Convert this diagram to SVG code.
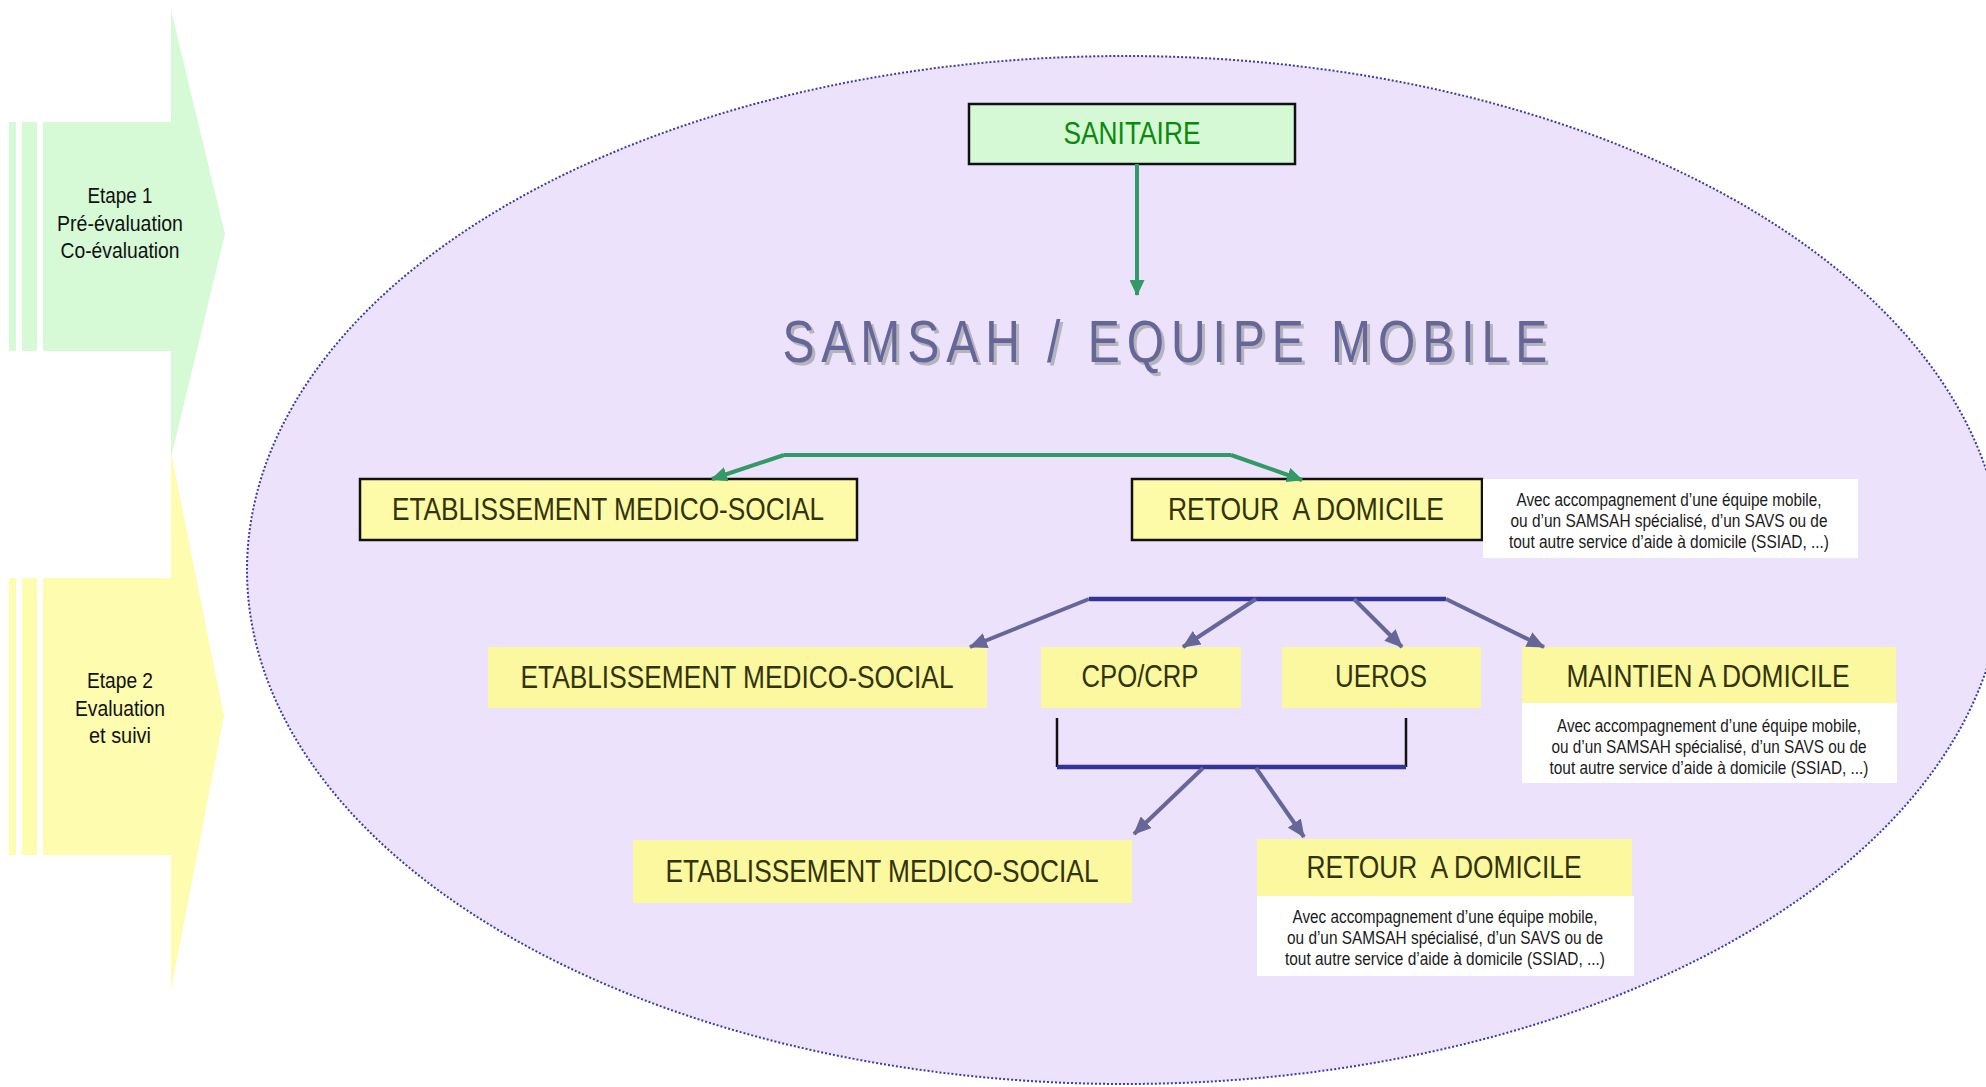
<svg xmlns="http://www.w3.org/2000/svg" width="1986" height="1087" viewBox="0 0 1986 1087">
  <defs>
    <style>
      .nar{font-family:"Liberation Sans Narrow","Liberation Sans",Arial,sans-serif;}
      .lbl{font-size:32px;fill:#333308;text-anchor:middle;}
      .note{font-size:17.5px;fill:#1a1a1a;text-anchor:middle;}
      .stage{font-size:22px;fill:#111;text-anchor:middle;}
      .ybox{fill:#fbf8a0;}
      .bbox{fill:#fefba8;stroke:#111;stroke-width:2.5;}
      .wbox{fill:#ffffff;}
      .g{stroke:#339966;stroke-width:4;fill:none;}
      .s{stroke:#666699;stroke-width:4;fill:none;}
      .n{stroke:#333399;stroke-width:4.5;fill:none;}
      .k{stroke:#111;stroke-width:2.5;fill:none;}
      .title{font-family:"Liberation Sans",Arial,sans-serif;font-size:60px;text-anchor:middle;}
    </style>
    <marker id="ag" markerUnits="userSpaceOnUse" markerWidth="16" markerHeight="15" refX="15" refY="7.5" orient="auto">
      <path d="M0,0 L16,7.5 L0,15 z" fill="#339966"/>
    </marker>
    <marker id="as" markerUnits="userSpaceOnUse" markerWidth="18" markerHeight="16" refX="17" refY="8" orient="auto">
      <path d="M0,0 L18,8 L0,16 z" fill="#666699"/>
    </marker>
  </defs>

  <!-- stage arrows on the left -->
  <g id="etape1">
    <rect x="9" y="122" width="7" height="229" fill="#d6f9d6"/>
    <rect x="22" y="122" width="15" height="229" fill="#d6f9d6"/>
    <polygon points="43,122 171,122 171,10 225,234 171,458 171,351 43,351" fill="#d6f9d6"/>
    <text class="nar stage" x="120" y="203" textLength="65" lengthAdjust="spacingAndGlyphs">Etape 1</text>
    <text class="nar stage" x="120" y="231" textLength="126" lengthAdjust="spacingAndGlyphs">Pré-évaluation</text>
    <text class="nar stage" x="120" y="258" textLength="119" lengthAdjust="spacingAndGlyphs">Co-évaluation</text>
  </g>
  <g id="etape2">
    <rect x="9" y="578" width="7" height="277" fill="#fdfcaf"/>
    <rect x="22" y="578" width="15" height="277" fill="#fdfcaf"/>
    <polygon points="43,578 171,578 171,452 224,716 171,990 171,855 43,855" fill="#fdfcaf"/>
    <text class="nar stage" x="120" y="688" textLength="66" lengthAdjust="spacingAndGlyphs">Etape 2</text>
    <text class="nar stage" x="120" y="716" textLength="90" lengthAdjust="spacingAndGlyphs">Evaluation</text>
    <text class="nar stage" x="120" y="743" textLength="62" lengthAdjust="spacingAndGlyphs">et suivi</text>
  </g>

  <!-- dotted oval framing the pathway -->
  <ellipse id="cadre" cx="1125" cy="570" rx="878" ry="514" fill="#ece2fb" stroke="#3a3aa8" stroke-width="2" stroke-dasharray="2 2"/>

  <!-- nodes -->
  <g id="sanitaire">
    <rect x="969" y="104" width="326" height="60" fill="#d5f8d5" stroke="#111" stroke-width="2.5"/>
    <text class="nar" x="1132" y="144" font-size="31" fill="#0a8a0a" text-anchor="middle" textLength="137" lengthAdjust="spacingAndGlyphs">SANITAIRE</text>
  </g>

  <!-- title: narrowed letters, widely spaced -->
  <g id="samsah">
    <text class="title" transform="translate(3,3) scale(0.8,1)" x="1456" y="362" fill="#b4b4bc" textLength="956" lengthAdjust="spacing">SAMSAH / EQUIPE MOBILE</text>
    <text class="title" transform="scale(0.8,1)" x="1456" y="362" fill="#666699" textLength="956" lengthAdjust="spacing">SAMSAH / EQUIPE MOBILE</text>
  </g>

  <g id="etab1">
    <rect class="bbox" x="360" y="479" width="497" height="61"/>
    <text class="nar lbl" x="608" y="520" textLength="432" lengthAdjust="spacingAndGlyphs">ETABLISSEMENT MEDICO-SOCIAL</text>
  </g>

  <g id="retour1">
    <rect class="bbox" x="1132" y="479" width="350" height="61"/>
    <text class="nar lbl" x="1306" y="520" textLength="276" lengthAdjust="spacingAndGlyphs" style="white-space:pre">RETOUR  A DOMICILE</text>
  </g>
  <g id="note1">
    <rect class="wbox" x="1483" y="479" width="375" height="79"/>
    <text class="nar note" x="1669" y="506" textLength="305" lengthAdjust="spacingAndGlyphs">Avec accompagnement d’une équipe mobile,</text>
    <text class="nar note" x="1669" y="527" textLength="317" lengthAdjust="spacingAndGlyphs">ou d’un SAMSAH spécialisé, d’un SAVS ou de</text>
    <text class="nar note" x="1669" y="548" textLength="320" lengthAdjust="spacingAndGlyphs">tout autre service d’aide à domicile (SSIAD, ...)</text>
  </g>

  <g id="etab2">
    <rect class="ybox" x="488" y="647" width="499" height="61"/>
    <text class="nar lbl" x="737" y="688" textLength="433" lengthAdjust="spacingAndGlyphs">ETABLISSEMENT MEDICO-SOCIAL</text>
  </g>
  <g id="cpo">
    <rect class="ybox" x="1041" y="647" width="200" height="61"/>
    <text class="nar lbl" x="1140" y="687" textLength="117" lengthAdjust="spacingAndGlyphs">CPO/CRP</text>
  </g>
  <g id="ueros">
    <rect class="ybox" x="1282" y="647" width="199" height="61"/>
    <text class="nar lbl" x="1381" y="687" textLength="92" lengthAdjust="spacingAndGlyphs">UEROS</text>
  </g>
  <g id="maintien">
    <rect class="ybox" x="1522" y="647" width="374" height="56"/>
    <text class="nar lbl" x="1708" y="687" textLength="283" lengthAdjust="spacingAndGlyphs">MAINTIEN A DOMICILE</text>
  </g>
  <g id="note2">
    <rect class="wbox" x="1522" y="703" width="375" height="80"/>
    <text class="nar note" x="1709" y="732" textLength="304" lengthAdjust="spacingAndGlyphs">Avec accompagnement d’une équipe mobile,</text>
    <text class="nar note" x="1709" y="753" textLength="315" lengthAdjust="spacingAndGlyphs">ou d’un SAMSAH spécialisé, d’un SAVS ou de</text>
    <text class="nar note" x="1709" y="774" textLength="319" lengthAdjust="spacingAndGlyphs">tout autre service d’aide à domicile (SSIAD, ...)</text>
  </g>

  <g id="etab3">
    <rect class="ybox" x="633" y="840" width="499" height="63"/>
    <text class="nar lbl" x="882" y="882" textLength="433" lengthAdjust="spacingAndGlyphs">ETABLISSEMENT MEDICO-SOCIAL</text>
  </g>
  <g id="retour3">
    <rect class="ybox" x="1257" y="839" width="375" height="57"/>
    <text class="nar lbl" x="1444" y="878" textLength="275" lengthAdjust="spacingAndGlyphs" style="white-space:pre">RETOUR  A DOMICILE</text>
  </g>
  <g id="note3">
    <rect class="wbox" x="1257" y="896" width="377" height="80"/>
    <text class="nar note" x="1445" y="923" textLength="305" lengthAdjust="spacingAndGlyphs">Avec accompagnement d’une équipe mobile,</text>
    <text class="nar note" x="1445" y="944" textLength="316" lengthAdjust="spacingAndGlyphs">ou d’un SAMSAH spécialisé, d’un SAVS ou de</text>
    <text class="nar note" x="1445" y="965" textLength="320" lengthAdjust="spacingAndGlyphs">tout autre service d’aide à domicile (SSIAD, ...)</text>
  </g>

  <!-- connectors -->
  <g id="connectors">
    <path class="g" d="M1137,164 L1137,295" stroke-width="3.5" marker-end="url(#ag)"/>
    <path class="g" d="M784,455 L1231,455"/>
    <path class="g" d="M784,455 L712,479" marker-end="url(#ag)"/>
    <path class="g" d="M1231,455 L1302,480" marker-end="url(#ag)"/>

    <path class="n" d="M1089,599 L1446,599"/>
    <path class="s" d="M1089,599 L970,647" marker-end="url(#as)"/>
    <path class="s" d="M1256,599 L1183,647" marker-end="url(#as)"/>
    <path class="s" d="M1354,599 L1402,647" marker-end="url(#as)"/>
    <path class="s" d="M1446,599 L1544,647" stroke-width="5" marker-end="url(#as)"/>

    <path class="k" d="M1057,718 L1057,767"/>
    <path class="k" d="M1406,718 L1406,767"/>
    <path class="n" d="M1057,767 L1406,767"/>
    <path class="s" d="M1203,768 L1134,834" stroke-width="3" marker-end="url(#as)"/>
    <path class="s" d="M1256,768 L1304,837" stroke-width="3" marker-end="url(#as)"/>
  </g>
</svg>
